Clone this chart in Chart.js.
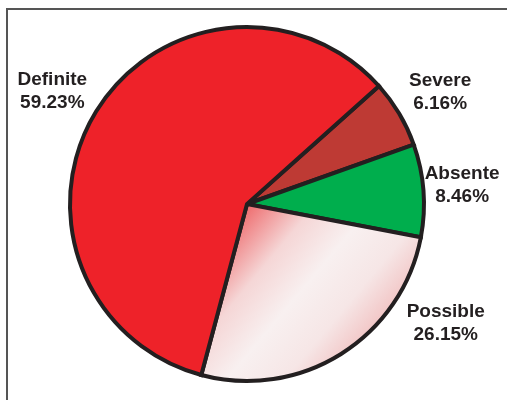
<!DOCTYPE html>
<html>
<head>
<meta charset="utf-8">
<script src="https://cdn.jsdelivr.net/npm/chart.js@4"></script>
<style>
  html, body { margin: 0; padding: 0; background: #fff; }
  #wrap { position: relative; width: 507px; height: 400px; }
  #frame { position: absolute; left: 6px; top: 8px; right: -4px; bottom: -4px;
           border-left: 2px solid #555; border-top: 2px solid #555; }
  canvas { position: absolute; left: 0; top: 0; }
</style>
</head>
<body>
<div id="wrap">
  <div id="frame"></div>
  <canvas id="pie" width="507" height="400"></canvas>
</div>
<script>
// pie slices, clockwise from the Severe slice
const categories = ['Severe', 'Absente', 'Possible', 'Definite']
const percents = [6.16, 8.46, 26.15, 59.23]
const sliceColors = ['#BE3A34', '#00AE4D', null, '#EE2229']

// where each label sits: angle (deg, canvas coords) and distance in radii
const labelAngle = [-30, -5, 31, -150]
const labelDist = [1.26, 1.22, 1.31, 1.27]

function pieGeometry(chart) {
  const a = chart.chartArea
  const r = (Math.min(a.right - a.left, a.bottom - a.top) - 4) / 2
  return { x: (a.left + a.right) / 2, y: (a.top + a.bottom) / 2, r: r }
}

// shaded fill of the "Possible" slice
function possibleFill(context) {
  const chart = context.chart
  if (!chart.chartArea) return '#F6E8E8'
  const g = pieGeometry(chart)
  const ang = 40 * Math.PI / 180
  const grad = chart.ctx.createLinearGradient(g.x, g.y,
    g.x + Math.cos(ang) * g.r, g.y + Math.sin(ang) * g.r)
  grad.addColorStop(0, '#EE6A6C')
  grad.addColorStop(0.3, '#F5D6D6')
  grad.addColorStop(0.55, '#F8F0F0')
  grad.addColorStop(0.8, '#F6E6E6')
  grad.addColorStop(1, '#F2C6C6')
  return grad
}

const sliceLabels = {
  id: 'sliceLabels',
  afterDatasetsDraw(chart) {
    const ctx = chart.ctx
    const g = pieGeometry(chart)
    ctx.save()
    ctx.font = 'bold 19px "Liberation Sans", Arial, sans-serif'
    ctx.fillStyle = '#231F20'
    ctx.textAlign = 'center'
    ctx.textBaseline = 'middle'
    categories.forEach((name, i) => {
      const a = labelAngle[i] * Math.PI / 180
      const x = g.x + Math.cos(a) * g.r * labelDist[i]
      const y = g.y + Math.sin(a) * g.r * labelDist[i]
      ctx.fillText(name, x, y - 11.5)
      ctx.fillText(percents[i].toFixed(2) + '%', x, y + 11.5)
    })
    ctx.restore()
  }
}

new Chart(document.getElementById('pie'), {
  type: 'pie',
  data: {
    labels: categories,
    datasets: [{
      data: percents,
      backgroundColor: (context) => {
        const c = sliceColors[context.dataIndex]
        return c ? c : possibleFill(context)
      },
      borderColor: '#231F20',
      borderWidth: 4,
      borderJoinStyle: 'miter',
      hoverOffset: 0
    }]
  },
  options: {
    responsive: false,
    animation: false,
    rotation: 48.2,
    layout: { padding: { top: 25, bottom: 17, left: 68, right: 81 } },
    plugins: {
      legend: { display: false },
      tooltip: { enabled: false }
    }
  },
  plugins: [sliceLabels]
});
</script>
</body>
</html>
